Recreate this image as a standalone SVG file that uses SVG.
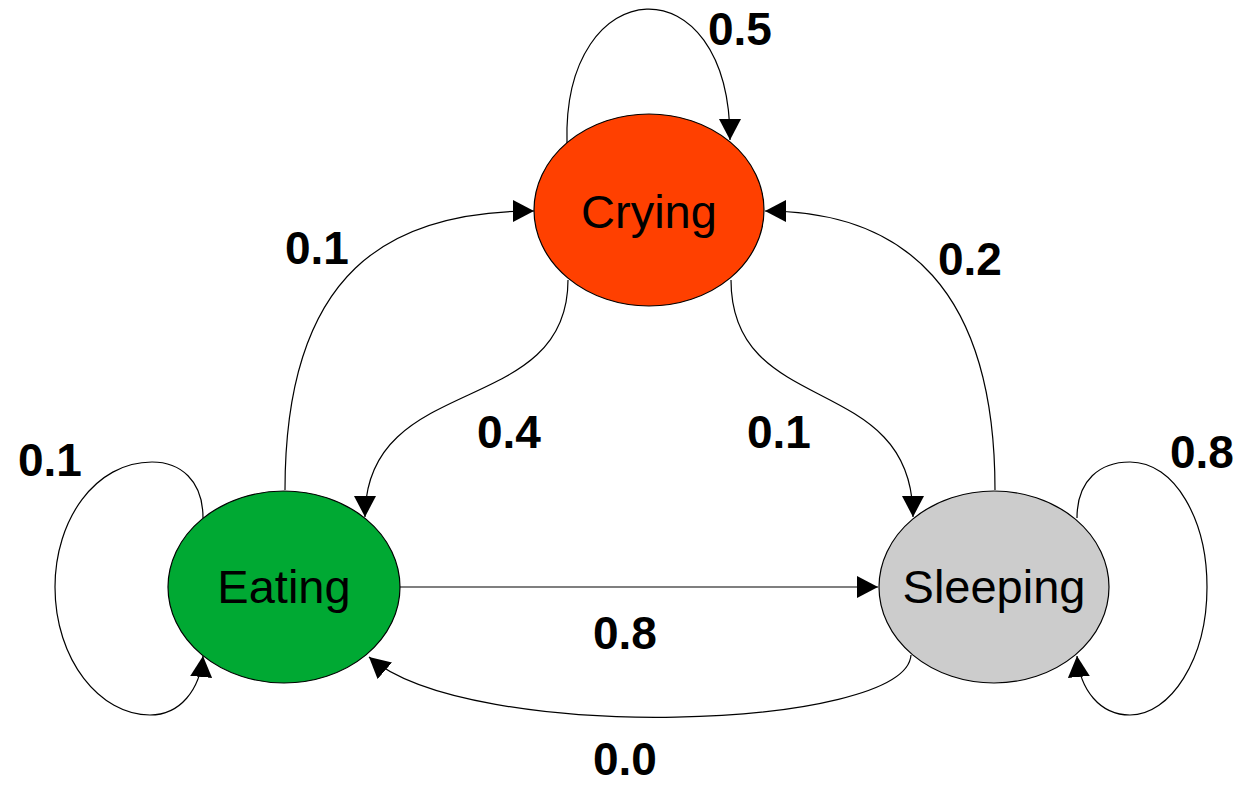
<svg xmlns="http://www.w3.org/2000/svg" width="1252" height="785" viewBox="0 0 1252 785">
<style>
.node{stroke:#000;stroke-width:1.2}
.nt{font-family:"Liberation Sans",Arial,sans-serif;font-size:47px;fill:#000;text-anchor:middle}
.lbl{font-family:"Liberation Sans",Arial,sans-serif;font-size:46px;font-weight:bold;fill:#000}
.edge{fill:none;stroke:#000;stroke-width:1.2;marker-end:url(#arr)}
</style>
<defs>
<marker id="arr" viewBox="0 0 21 22" refX="21" refY="11" markerWidth="21" markerHeight="22" markerUnits="userSpaceOnUse" orient="auto">
<path d="M0 0 L21 11 L0 22 z" fill="#000"/>
</marker>
</defs>
<rect width="1252" height="785" fill="#fff"/>
<g id="connectors">
<path class="edge" d="M567 143 C562 -30 730 -40 730 140"/>
<path class="edge" d="M285 490 C285 270 390 211 534 211"/>
<path class="edge" d="M995 490 C995 290 905 211 765 211"/>
<path class="edge" d="M568 280 C568 420 365 370 365 517"/>
<path class="edge" d="M731 280 C731 420 913 370 913 517"/>
<path class="edge" d="M400 587 L878 587"/>
<path class="edge" d="M911 655 C906 730 470 745 369 657"/>
<path class="edge" d="M203 518 C203 480 180 462 152 462 C95 462 55 520 55 587 C55 660 100 715 150 715 C180 715 200 690 203 656"/>
<path class="edge" d="M1077 518 C1077 480 1100 462 1130 462 C1175 462 1207 520 1207 587 C1207 660 1170 715 1130 715 C1100 715 1080 690 1077 656"/>
</g>
<g id="crying">
<ellipse class="node" cx="649" cy="210" rx="115" ry="96" fill="#ff4000"/>
<text class="nt" x="649" y="228">Crying</text>
</g>
<g id="eating">
<ellipse class="node" cx="284" cy="587" rx="116" ry="96" fill="#00a933"/>
<text class="nt" x="284" y="603">Eating</text>
</g>
<g id="sleeping">
<ellipse class="node" cx="994" cy="587" rx="115" ry="96" fill="#cccccc"/>
<text class="nt" x="994" y="603">Sleeping</text>
</g>
<g id="labels">
<text class="lbl" x="708" y="45">0.5</text>
<text class="lbl" x="285" y="264">0.1</text>
<text class="lbl" x="938" y="275">0.2</text>
<text class="lbl" x="477" y="448">0.4</text>
<text class="lbl" x="747" y="448">0.1</text>
<text class="lbl" x="18" y="476">0.1</text>
<text class="lbl" x="1170" y="468">0.8</text>
<text class="lbl" x="593" y="649">0.8</text>
<text class="lbl" x="593" y="775">0.0</text>
</g>
</svg>
